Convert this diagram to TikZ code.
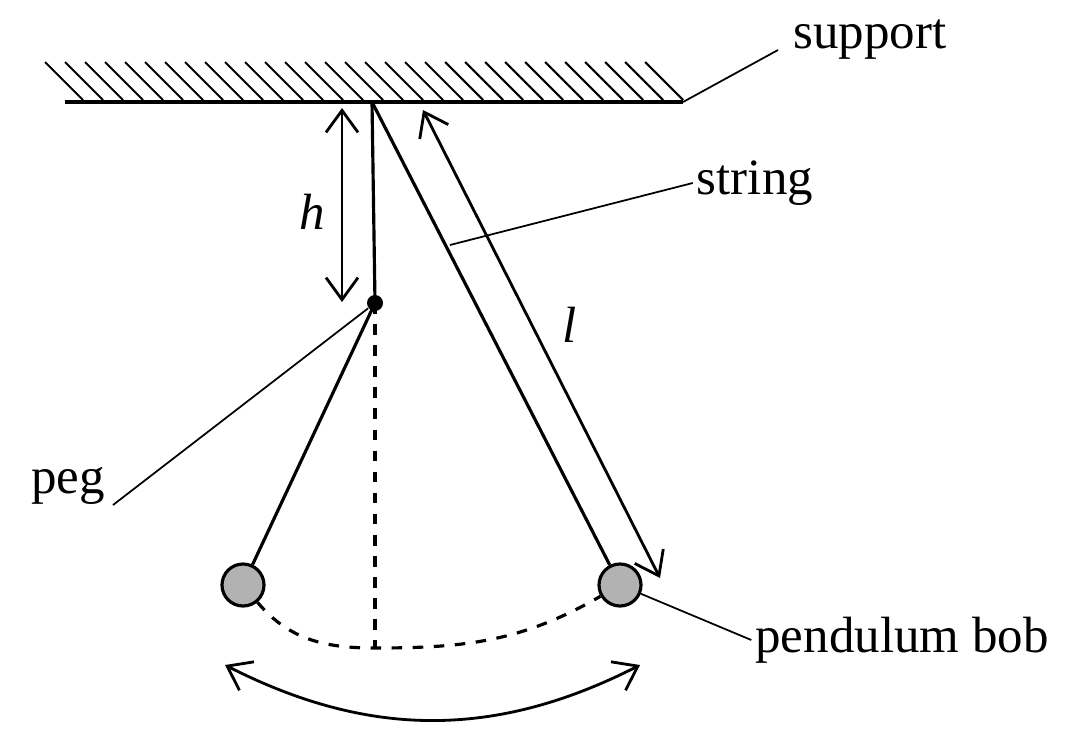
\documentclass[tikz,border=0pt]{standalone}
\usepackage{fontspec}
\setmainfont{Liberation Serif}
\usetikzlibrary{arrows.meta,positioning,calc}
\tikzset{
  lbl/.style = {inner sep=1pt, font=\fontsize{14.5}{17}\selectfont},
  leader/.style = {line width=0.5pt},
  wire/.style = {line width=0.9pt},
  bob/.style = {circle, draw=black, fill=black!30, line width=0.9pt, minimum size=4.2mm, inner sep=0pt},
  dimarr/.style = {line width=0.8pt, {Straight Barb[length=2.2mm,width=3.2mm]}-{Straight Barb[length=2.2mm,width=3.2mm]}}
}
\begin{document}
\begin{tikzpicture}[x=0.1mm,y=-0.1mm]
			\useasboundingbox (0,0) rectangle (1068,747);
			% ceiling
			\coordinate (wl) at (65,102);
			\coordinate (wr) at (683,102);
			\draw[wire] (wl) -- (wr);
			\foreach \x in {45,65,...,645}
				\draw[line width=0.6pt] (\x,62) -- (\x+38,100);
			% pivot, peg and bobs
			\coordinate (pivot) at (372,102);
			\node[circle, fill=black, inner sep=0pt, minimum size=1.6mm] (peg) at (375,303) {};
			\node[bob] (bobl) at (243,585) {};
			\node[bob] (bobr) at (620,585) {};
			\coordinate (low) at (375,648);
			\draw[wire] (pivot) -- (peg.center) -- (bobl);
			\draw[wire] (pivot) -- (bobr);
			\draw[wire, dashed] (peg.center) -- (low);
			\draw[wire, dashed] (bobl) to[out=-50, in=180] (low) to[out=0, in=-150] (bobr);
			% dimensions
			\coordinate (ht) at (342,108);
			\coordinate (hb) at (342,302);
			\draw[dimarr] (ht) -- (hb);
			\node[lbl, font=\fontsize{14.5}{17}\selectfont\itshape] (h) at (312,212) {h};
			\coordinate (lt) at (423,110);
			\coordinate (lb) at (660,578);
			\draw[dimarr] (lt) -- (lb);
			\node[lbl, font=\fontsize{14.5}{17}\selectfont\itshape] (l) at (570,325) {l};
			\coordinate (swl) at (225,665);
			\coordinate (swr) at (640,665);
			\draw[dimarr] (swl) to[out=-27, in=-153] (swr);
			% labels
			\node[lbl] (support) at (870,40) {support};
			\draw[leader] (wr) -- (778,50);
			\node[lbl] (string) at (755,183) {string};
			\draw[leader] (450,245) -- (string.west);
			\node[lbl] (peglbl) at (68,486) {peg};
			\draw[leader] (113,505) -- (peg);
			\node[lbl] (boblbl) at (902,640) {pendulum bob};
			\draw[leader] (bobr) -- (boblbl.west);
\end{tikzpicture}
\end{document}
